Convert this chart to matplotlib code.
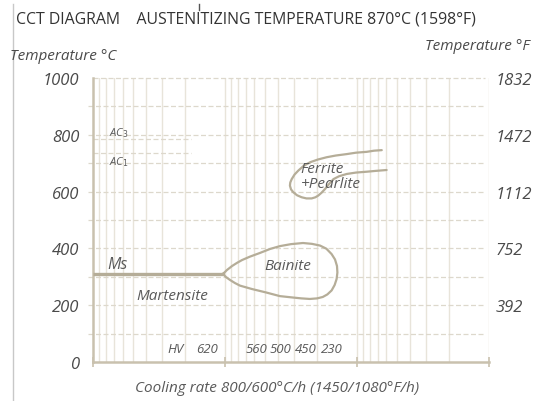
import matplotlib
matplotlib.use("Agg")
import matplotlib.pyplot as plt
from matplotlib.lines import Line2D
from matplotlib.transforms import blended_transform_factory

plt.rcParams['font.family'] = ['Open Sans', 'DejaVu Sans']

# 温度刻度 (°C 左轴, °F 右轴)
temp_ticks_c = [0, 200, 400, 600, 800, 1000]
temp_ticks_f = [392, 752, 1112, 1472, 1832]

# 冷却速率 对数轴, 从左到右递减
rate_max, rate_min = 1000, 1
decades = [1000, 100, 10, 1]

# Ms 线
ms_temp = 310
ms_rate = [1000, 104]

# AC3 / AC1
ac3_temp = 785
ac1_temp = 736
ac_rate = [1000, 182]

# 贝氏体区
bainite_rate = [104, 96.9, 88.7, 81.4, 74.5, 64.9, 54.5, 45.7, 38.5, 31.7,
                25.7, 22.0, 19.1, 17.1, 15.6, 14.7, 14.2, 14.1, 14.3, 14.8,
                15.6, 16.8, 18.2, 20.1, 22.8, 26.4, 30.6, 38.5, 49.1, 62.7,
                77.3, 84.3, 92, 98.6, 104]
bainite_temp = [310, 324, 338, 349, 359, 371, 384, 398, 408, 415,
                419, 416, 410, 399, 380, 361, 338, 315, 292, 271,
                252, 238, 229, 224, 222, 224, 227, 232, 245, 257,
                269, 278, 289, 299, 310]

# 铁素体+珠光体区
ferrite_rate = [6.5, 7.45, 8.45, 10.2, 12.0, 14.5, 17.0, 19.8, 22.8, 25.5,
                27.9, 29.8, 31.3, 32.1, 32.3, 31.7, 30.5, 28.5, 26.3, 24.2,
                22.1, 20.7, 19.7, 18.6, 17.5, 16.3, 15.1, 13.7, 12.0, 10.2,
                8.45, 7.19, 5.97]
ferrite_temp = [746, 744, 740, 737, 732, 727, 721, 713, 703, 690,
                674, 660, 644, 632, 621, 608, 598, 587, 580, 576,
                576, 580, 586, 596, 609, 627, 644, 654, 662, 667,
                670, 673, 676]

# 硬度 HV
hv_labels = ['HV', '620', '560', '500', '450', '230']
hv_rates = [239, 137, 58, 37.9, 24.3, 15.6]
hv_temp = 49

curve_c = '#b5ad98'
grid_c = '#e8e4da'
dash_c = '#ddd8cc'
spine_c = '#c9c1ae'
text_c = '#4a4a4a'

fig = plt.figure(figsize=(5.58, 4.02), dpi=100)
ax = fig.add_axes([0.1672, 0.097, 0.7091, 0.7065])

ax.set_xscale('log')
ax.set_xlim(rate_max, rate_min)
ax.set_ylim(0, 1000)

# 竖直网格线
minor = [m * d for d in decades[1:] for m in range(2, 10)] + decades[1:]
for v in minor:
    ax.axvline(v, color=grid_c, lw=1.0, zorder=1)

# 水平虚线网格 (稍微伸出左轴)
tr = blended_transform_factory(ax.transAxes, ax.transData)
for t in range(100, 1001, 100):
    x0 = 0.0 if t == 1000 else -0.014
    ax.plot([x0, 0.99], [t, t], transform=tr, color=dash_c, lw=0.9,
            dashes=(4, 2), clip_on=False, zorder=2)

# AC 线
ax.plot(ac_rate, [ac3_temp, ac3_temp], color=dash_c, lw=0.9, dashes=(4, 2), zorder=2)
ax.plot(ac_rate, [ac1_temp, ac1_temp], color=dash_c, lw=0.9, dashes=(4, 2), zorder=2)

# 曲线
ax.plot(ms_rate, [ms_temp, ms_temp], color=curve_c, lw=2.4, solid_capstyle='butt', zorder=3)
ax.plot(bainite_rate, bainite_temp, color=curve_c, lw=1.6, zorder=3,
        solid_joinstyle='round')
ax.plot(ferrite_rate, ferrite_temp, color=curve_c, lw=1.6, zorder=3,
        solid_joinstyle='round', solid_capstyle='round')

# 轴线
for s in ['top', 'right']:
    ax.spines[s].set_visible(False)
for s in ['left', 'bottom']:
    ax.spines[s].set_color(spine_c)
    ax.spines[s].set_linewidth(1.8)

ax.set_xticks(decades)
ax.set_xticks([], minor=True)
ax.set_xticklabels([])
ax.tick_params(axis='x', direction='inout', length=7, width=1.2, color=spine_c)
ax.set_yticks(temp_ticks_c)
ax.set_yticklabels([str(t) for t in temp_ticks_c], style='italic', fontsize=12, color=text_c)
ax.tick_params(axis='y', length=0, pad=10)

ax2 = ax.twinx()
ax2.set_ylim(32, 1832)
ax2.set_yticks(temp_ticks_f)
ax2.set_yticklabels([str(t) for t in temp_ticks_f], style='italic', fontsize=12, color=text_c)
ax2.tick_params(axis='y', length=0, pad=5)
for s in ax2.spines.values():
    s.set_visible(False)

# 区域文字
lab = dict(style='italic', color='#5a5a5a', zorder=4)
ax.text(789, 345, 'Ms', fontsize=11.5, va='center', ha='left', **lab)
ax.text(251, 233, 'Martensite', fontsize=11, va='center', ha='center', **lab)
ax.text(33.6, 339, 'Bainite', fontsize=11, va='center', ha='center', **lab)
ax.text(26.8, 682, 'Ferrite', fontsize=11, va='center', ha='left', **lab)
ax.text(26.8, 627, '+Pearlite', fontsize=11, va='center', ha='left', **lab)
ax.text(760, 811, 'AC$_3$', fontsize=8, va='center', ha='left', **lab)
ax.text(760, 709, 'AC$_1$', fontsize=8, va='center', ha='left', **lab)
for s, r in zip(hv_labels, hv_rates):
    ax.text(r, hv_temp, s, fontsize=9.5, va='center', ha='center', **lab)

# 标题
fig.text(16 / 558, 1 - 20 / 402, 'CCT DIAGRAM    AUSTENITIZING TEMPERATURE 870°C (1598°F)',
         fontsize=11.4, color='#333333', va='center', ha='left')
fig.text(10 / 558, 1 - 57 / 402, 'Temperature °C', fontsize=11, style='italic',
         color=text_c, va='center', ha='left')
fig.text(530 / 558, 1 - 46 / 402, 'Temperature °F', fontsize=11, style='italic',
         color=text_c, va='center', ha='right')
fig.text(277.5 / 558, 1 - 389 / 402, 'Cooling rate 800/600°C/h (1450/1080°F/h)',
         fontsize=11, style='italic', color='#5a5a5a', va='center', ha='center')

# 左边框与顶部小刻痕
fig.add_artist(Line2D([12.5 / 558, 12.5 / 558], [0, 1 - 5 / 402], color='#c8c8c8', lw=1.0))
fig.add_artist(Line2D([199 / 558, 199 / 558], [1 - 5 / 402, 1 - 11 / 402], color='#555555', lw=1.0))

fig.savefig('out.png', dpi=100)
